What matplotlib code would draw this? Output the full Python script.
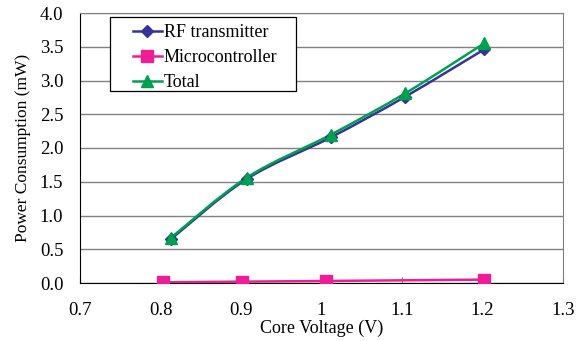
import matplotlib
matplotlib.use("Agg")
import matplotlib.pyplot as plt
from matplotlib.path import Path
from matplotlib.patches import PathPatch, Rectangle
import numpy as np

plt.rcParams['font.family'] = ['Liberation Serif', 'DejaVu Serif']

rf_x = [0.813, 0.907, 1.012, 1.104, 1.202]
rf_y = [0.65, 1.54, 2.16, 2.76, 3.46]
mc_x = [0.803, 0.901, 1.006, 1.202]
mc_y = [0.01, 0.02, 0.03, 0.05]
tot_x = [0.813, 0.907, 1.012, 1.104, 1.202]
tot_y = [0.67, 1.56, 2.20, 2.81, 3.55]

x_ticks = [0.7, 0.8, 0.9, 1.0, 1.1, 1.2, 1.3]
x_labels = ['0.7', '0.8', '0.9', '1', '1.1', '1.2', '1.3']
y_ticks = [0.0, 0.5, 1.0, 1.5, 2.0, 2.5, 3.0, 3.5, 4.0]

c_rf = '#333399'
c_mc = '#EE1C96'
c_tot = '#00A050'

W, H = 583, 341
fig = plt.figure(figsize=(W/100, H/100), dpi=100)
ax = fig.add_axes([80/W, 1-283/H, 483/W, 270/H])


def smooth(ax, xs, ys, color):
    xs = np.asarray(xs, float); ys = np.asarray(ys, float)
    n = len(xs)
    verts = [(xs[0], ys[0])]
    codes = [Path.MOVETO]
    for i in range(n - 1):
        p0 = np.array([xs[max(i-1, 0)], ys[max(i-1, 0)]])
        p1 = np.array([xs[i], ys[i]])
        p2 = np.array([xs[i+1], ys[i+1]])
        p3 = np.array([xs[min(i+2, n-1)], ys[min(i+2, n-1)]])
        c1 = p1 + (p2 - p0) / 6
        c2 = p2 - (p3 - p1) / 6
        verts += [tuple(c1), tuple(c2), tuple(p2)]
        codes += [Path.CURVE4] * 3
    patch = PathPatch(Path(verts, codes), facecolor='none', edgecolor=color,
                      lw=1.8, zorder=3)
    ax.add_patch(patch)


smooth(ax, rf_x, rf_y, c_rf)
smooth(ax, mc_x, mc_y, c_mc)
smooth(ax, tot_x, tot_y, c_tot)
ax.plot(rf_x, rf_y, ls='none', marker='D', ms=6, color=c_rf, zorder=4)
ax.plot(mc_x, mc_y, ls='none', marker='s', ms=9, color=c_mc, zorder=4)
ax.plot(tot_x, tot_y, ls='none', marker='^', ms=8, color=c_tot, zorder=5)

# legend box (drawn separately for wider side padding)
fig.patches.append(Rectangle((110/W, 1-91/H), 186/W, 74/H,
                             transform=fig.transFigure, facecolor='white',
                             edgecolor='black', lw=0.9, zorder=2))

h1, = ax.plot([], [], color=c_rf, lw=1.8, marker='D', ms=6, label='RF transmitter')
h2, = ax.plot([], [], color=c_mc, lw=1.8, marker='s', ms=8, label='Microcontroller')
h3, = ax.plot([], [], color=c_tot, lw=1.8, marker='^', ms=8, label='Total')
leg = fig.legend(handles=[h1, h2, h3], loc='upper left',
                 bbox_to_anchor=(133/W, 1-24/H), frameon=False, fontsize=13,
                 handlelength=1.6, handletextpad=0.1, borderpad=0.0,
                 labelspacing=0.45, borderaxespad=0)

ax.set_xlim(0.7, 1.3)
ax.set_ylim(0, 4.0)
ax.set_xticks(x_ticks)
ax.set_xticklabels(x_labels)
ax.set_yticks(y_ticks)
ax.set_yticklabels([f'{v:.1f}' for v in y_ticks])
ax.yaxis.grid(True, color='#808080', lw=1.0)
ax.set_axisbelow(True)
ax.tick_params(axis='x', labelsize=13.5, direction='in', length=4,
               color='#808080', pad=14)
ax.tick_params(axis='y', labelsize=13.5, length=0, pad=12)
for s in ['top', 'right']:
    ax.spines[s].set_color('#808080')
for s in ['left', 'bottom']:
    ax.spines[s].set_color('black')
ax.set_xlabel('Core Voltage (V)', fontsize=13, labelpad=0)
ax.set_ylabel('Power Consumption (mW)', fontsize=12.5, labelpad=6)

fig.savefig('out.png', dpi=100)
